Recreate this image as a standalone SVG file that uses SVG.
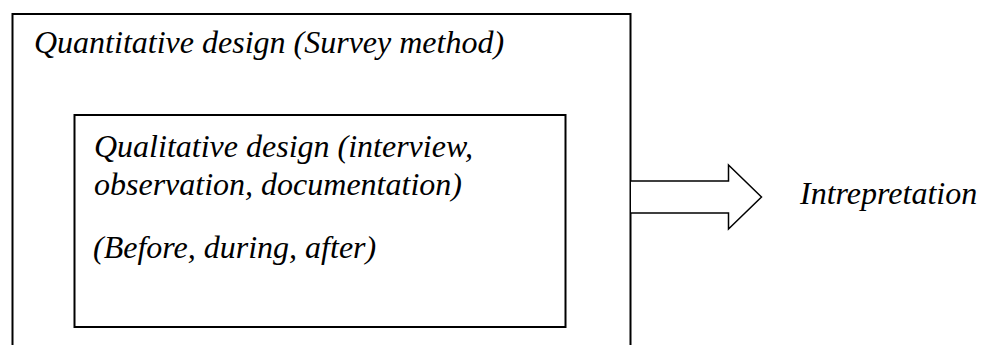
<svg xmlns="http://www.w3.org/2000/svg" width="983" height="345" viewBox="0 0 983 345">
  <style>
    .t { font-family: "Liberation Serif", "Times New Roman", serif; font-style: italic; font-size: 32px; fill: #000; }
    .box { fill: none; stroke: #000; stroke-width: 2; }
    .arrow { fill: #fff; stroke: #000; stroke-width: 1.5; stroke-linejoin: miter; }
  </style>
  <rect x="0" y="0" width="983" height="345" fill="#fff"/>
  <g id="outer">
    <path class="box" d="M12.5,350 V14 H630.5 V350"/>
    <text class="t" x="34" y="53">Quantitative design (Survey method)</text>
  </g>
  <g id="inner">
    <rect class="box" x="74.5" y="115" width="491" height="212"/>
    <text class="t" x="94" y="157">Qualitative design (interview,</text>
    <text class="t" x="94" y="195">observation, documentation)</text>
    <text class="t" x="93" y="258">(Before, during, after)</text>
  </g>
  <g id="connectors">
    <path class="arrow" d="M631,181 H728.5 V165 L761.5,197 L728.5,229 V213 H631"/>
  </g>
  <g id="interpretation">
    <text class="t" x="800" y="204">Intrepretation</text>
  </g>
</svg>
